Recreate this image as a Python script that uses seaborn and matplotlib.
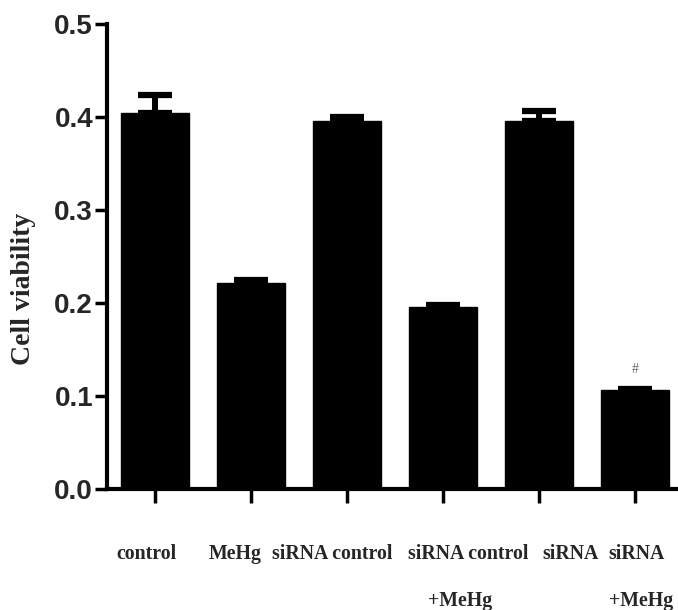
import matplotlib
matplotlib.use("Agg")
import matplotlib.pyplot as plt
import matplotlib.transforms as mtransforms
import seaborn as sns
import pandas as pd

# ---- data ----
groups = ["control", "MeHg", "siRNA control", "siRNA control +MeHg", "siRNA", "siRNA +MeHg"]
viability = [0.404, 0.2215, 0.396, 0.196, 0.396, 0.1065]
sem = [0.020, 0.003, 0.004, 0.002, 0.010, 0.0015]
label_line1 = ["control", "MeHg", "siRNA control", "siRNA control", "siRNA", "siRNA"]
label_line2 = ["", "", "", "+MeHg", "", "+MeHg"]
y_ticks = [0.0, 0.1, 0.2, 0.3, 0.4, 0.5]
y_label = "Cell viability"
sig_mark = "#"
sig_group = 5

# ---- layout (label x offsets in category units) ----
off1 = [-0.09, -0.16, -0.15, 0.26, 0.33, 0.02]
off2 = [0, 0, 0, 0.18, 0, 0.06]

sns.set_style("ticks")
W, H = 678, 610
fig = plt.figure(figsize=(W / 100, H / 100), dpi=100)
ax = fig.add_axes([107 / W, (H - 489) / H, (W - 107) / W, 465 / H])

df = pd.DataFrame({"group": groups, "viability": viability})
sns.barplot(data=df, x="group", y="viability", order=groups, color="black",
            saturation=1, width=0.71, edgecolor="black", errorbar=None, ax=ax)

centers = [p.get_x() + p.get_width() / 2 for p in ax.patches]
ax.errorbar(centers, viability, yerr=[[0] * len(sem), sem], fmt="none",
            ecolor="black", elinewidth=4.3, capsize=12, capthick=4.5, zorder=1)

ax.set_xlim(-0.5, (W - 155) / 96)
ax.set_ylim(0, 0.5)
ax.set_yticks(y_ticks)
ax.set_yticklabels([f"{v:.1f}" for v in y_ticks],
                   fontfamily=["Liberation Sans", "DejaVu Sans"],
                   fontweight="bold", fontsize=20)
ax.set_xticks(range(len(groups)))
ax.set_xticklabels([""] * len(groups))
ax.tick_params(axis="y", length=8.5, width=2.5, pad=1.5, color="black")
ax.tick_params(axis="x", length=10, width=2.5, color="black")

for s in ["top", "right"]:
    ax.spines[s].set_visible(False)
for s in ["left", "bottom"]:
    ax.spines[s].set_linewidth(3)
    ax.spines[s].set_color("black")

ax.set_xlabel("")
ax.set_ylabel("")
fig.text(24 / W, 1 - 289 / H, y_label, rotation=90, ha="center", va="center",
         fontfamily=["Liberation Serif", "DejaVu Serif"], fontweight="bold",
         fontsize=20)

trans = mtransforms.blended_transform_factory(ax.transData, ax.transAxes)
for i in range(len(groups)):
    ax.text(centers[i] + off1[i], (489 - 559) / 465, label_line1[i], transform=trans,
            ha="center", va="baseline", fontfamily=["Liberation Serif", "DejaVu Serif"],
            fontweight="bold", fontsize=14.3, clip_on=False)
    if label_line2[i]:
        ax.text(centers[i] + off2[i], (489 - 606) / 465, label_line2[i], transform=trans,
                ha="center", va="baseline", fontfamily=["Liberation Serif", "DejaVu Serif"],
                fontweight="bold", fontsize=14.3, clip_on=False)

ax.text(centers[sig_group], viability[sig_group] + sem[sig_group] + 0.02, sig_mark,
        ha="center", va="center", fontsize=10, color="#666666",
        fontfamily=["Liberation Serif", "DejaVu Serif"])

fig.savefig("out.png", dpi=100)
